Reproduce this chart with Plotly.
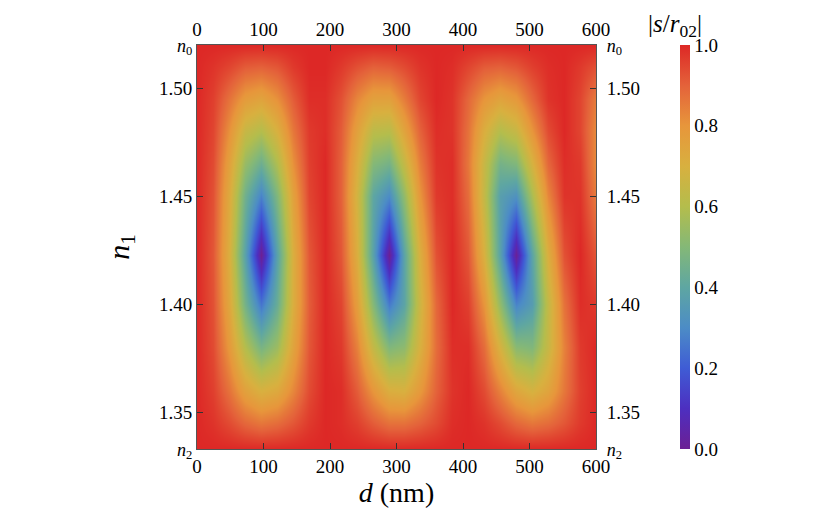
import plotly.graph_objects as go

# film thickness d (nm), sampled every 24 nm
d_nm = [0, 24, 48, 72, 96, 120, 144, 168, 192, 216, 240, 264, 288, 312, 336,
        360, 384, 408, 432, 456, 480, 504, 528, 552, 576, 600]

# film index n1 (rows), from n2 = 1.333 up to n0 = 1.52
n1 = [1.333, 1.345, 1.36, 1.38, 1.40, 1.423, 1.45, 1.465, 1.48, 1.495, 1.51, 1.52]

# |s/r02|, one row per n1 value
row_1333 = [1.00] * 26
row_1345 = [1.00, 0.98, 0.94, 0.89, 0.86, 0.88, 0.92, 0.97, 1.00, 0.99, 0.96, 0.91, 0.87,
            0.87, 0.90, 0.94, 0.99, 1.00, 0.98, 0.94, 0.89, 0.86, 0.88, 0.92, 0.97, 1.00]
row_1360 = [1.00, 0.96, 0.87, 0.76, 0.70, 0.73, 0.83, 0.94, 1.00, 0.99, 0.91, 0.80, 0.71,
            0.70, 0.79, 0.90, 0.98, 1.00, 0.94, 0.84, 0.74, 0.69, 0.75, 0.86, 0.96, 1.00]
row_1380 = [1.00, 0.94, 0.79, 0.60, 0.47, 0.55, 0.75, 0.92, 1.00, 0.97, 0.84, 0.64, 0.49,
            0.52, 0.70, 0.88, 0.99, 0.99, 0.88, 0.69, 0.51, 0.49, 0.65, 0.84, 0.97, 1.00]
row_1400 = [1.00, 0.93, 0.74, 0.46, 0.25, 0.43, 0.71, 0.91, 1.00, 0.95, 0.77, 0.50, 0.26,
            0.39, 0.67, 0.89, 1.00, 0.96, 0.80, 0.53, 0.28, 0.36, 0.64, 0.87, 0.99, 0.97]
row_1423 = [1.00, 0.92, 0.71, 0.38, 0.00, 0.38, 0.71, 0.92, 1.00, 0.92, 0.71, 0.38, 0.00,
            0.39, 0.71, 0.93, 1.00, 0.92, 0.70, 0.38, 0.01, 0.39, 0.71, 0.93, 1.00, 0.92]
row_1450 = [1.00, 0.93, 0.73, 0.45, 0.28, 0.49, 0.76, 0.95, 1.00, 0.90, 0.68, 0.40, 0.30,
            0.53, 0.80, 0.97, 0.99, 0.88, 0.64, 0.37, 0.32, 0.58, 0.83, 0.98, 0.98, 0.85]
row_1465 = [1.00, 0.94, 0.76, 0.54, 0.44, 0.59, 0.81, 0.96, 1.00, 0.90, 0.71, 0.50, 0.46,
            0.64, 0.85, 0.98, 0.99, 0.86, 0.65, 0.46, 0.49, 0.69, 0.89, 0.99, 0.97, 0.82]
row_1480 = [1.00, 0.95, 0.81, 0.65, 0.60, 0.70, 0.86, 0.97, 0.99, 0.91, 0.76, 0.62, 0.61,
            0.75, 0.90, 0.99, 0.98, 0.87, 0.71, 0.60, 0.65, 0.80, 0.94, 1.00, 0.95, 0.82]
row_1495 = [1.00, 0.96, 0.87, 0.78, 0.75, 0.81, 0.91, 0.99, 0.99, 0.93, 0.83, 0.76, 0.76,
            0.85, 0.95, 1.00, 0.98, 0.89, 0.80, 0.75, 0.79, 0.89, 0.98, 1.00, 0.95, 0.85]
row_1510 = [1.00, 0.98, 0.95, 0.91, 0.90, 0.92, 0.97, 1.00, 1.00, 0.97, 0.93, 0.90, 0.91,
            0.94, 0.98, 1.00, 0.99, 0.95, 0.91, 0.90, 0.92, 0.96, 0.99, 1.00, 0.97, 0.93]
row_1520 = [1.00] * 26

z = [row_1333, row_1345, row_1360, row_1380, row_1400, row_1423,
     row_1450, row_1465, row_1480, row_1495, row_1510, row_1520]

x_ticks = [0, 100, 200, 300, 400, 500, 600]
y_ticks = [1.333, 1.35, 1.40, 1.45, 1.50, 1.52]
small = "<span style='font-size:18px'><i>n</i><sub>%s</sub></span>"
y_text = [small % "2", "1.35", "1.40", "1.45", "1.50", small % "0"]
cb_ticks = [0.0, 0.2, 0.4, 0.6, 0.8, 1.0]

spectral = [
    [0.0, "#6c1f94"], [0.1, "#4d2fc0"], [0.2, "#3f5cd5"], [0.3, "#4c8cc6"],
    [0.4, "#5ea6a2"], [0.5, "#84b877"], [0.6, "#b4bd4c"], [0.7, "#d8b03f"],
    [0.8, "#e7963b"], [0.9, "#e4623a"], [1.0, "#dd2826"],
]

FONT = "Liberation Serif"
frame = "#555555"

fig = go.Figure()
fig.add_trace(go.Heatmap(
    x=d_nm, y=n1, z=z, zmin=0, zmax=1, zsmooth="best",
    colorscale=spectral,
    colorbar=dict(
        x=1.185, xanchor="left", y=0.5, len=1, ypad=0, thickness=10,
        outlinewidth=0, ticks="", tickvals=cb_ticks, tickformat=".1f",
        tickfont=dict(size=19, family=FONT, color="black"),
    ),
    hoverinfo="skip",
))
# dummy trace so the top and right axes get drawn
fig.add_trace(go.Scatter(x=[None], y=[None], xaxis="x2", yaxis="y2",
                         showlegend=False, hoverinfo="skip"))

axis_common = dict(ticks="inside", ticklen=6, tickcolor="#333", showline=True,
                   linecolor=frame, linewidth=1, showgrid=False, zeroline=False,
                   automargin=False,
                   tickfont=dict(size=19, family=FONT, color="black"))

# the page adds an 8px body margin, so the margins are trimmed by 8px
fig.update_layout(
    width=830, height=515,
    margin=dict(l=189, r=242, t=37, b=74, autoexpand=False),
    plot_bgcolor="white", paper_bgcolor="white",
    font=dict(family=FONT, color="black"),
    xaxis=dict(range=[0, 600], tickvals=x_ticks, mirror=True,
               title=dict(text="<i>d</i> (nm)", font=dict(size=28, family=FONT),
                          standoff=2),
               **axis_common),
    xaxis2=dict(range=[0, 600], tickvals=x_ticks, overlaying="x", side="top",
                **axis_common),
    yaxis=dict(range=[1.333, 1.52], tickvals=y_ticks, ticktext=y_text, mirror=True,
               title=dict(text="<i>n</i><sub>1</sub>", font=dict(size=30, family=FONT),
                          standoff=20),
               **axis_common),
    yaxis2=dict(range=[1.333, 1.52], tickvals=y_ticks, ticktext=y_text,
                overlaying="y", side="right", ticklabelstandoff=6, **axis_common),
    annotations=[dict(
        text="|<i>s</i>/<i>r</i><sub>02</sub>|", xref="paper", yref="paper",
        x=1.197, y=1.0, yshift=2, xanchor="center", yanchor="bottom",
        showarrow=False, font=dict(size=25, family=FONT, color="black"),
    )],
)

fig.write_html("out.html")
